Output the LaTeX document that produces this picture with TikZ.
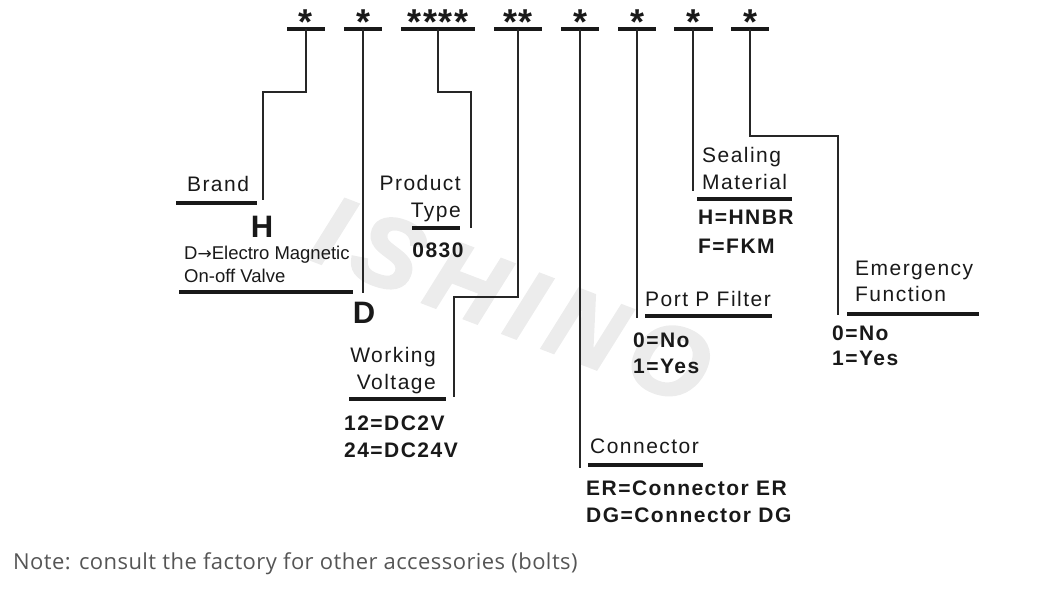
\documentclass[tikz,border=0pt]{standalone}
\usepackage{fontspec}
\setmainfont{Liberation Sans}
\newfontfamily\labfont[LetterSpace=7]{Liberation Sans}
\newfontfamily\valfont[LetterSpace=7]{Liberation Sans}
\newfontfamily\smallfont[LetterSpace=0]{Liberation Sans}
\newfontfamily\arrowfont{DejaVu Sans}
\newfontfamily\astfont[LetterSpace=4]{Liberation Sans}
\newfontfamily\wmfont[LetterSpace=14, FakeBold=2.5]{Liberation Sans}
\newfontfamily\notefont[LetterSpace=2]{Open Sans}
\definecolor{wmgray}{gray}{0.925}
\definecolor{notegray}{HTML}{555555}
\tikzset{
  conn/.style={line width=1.4pt, draw=black!85},
  bar/.style={line width=4.6pt, draw=black!90},
  lab/.style={font=\labfont\fontsize{21}{24}\selectfont, inner sep=0pt, text=black!90},
  val/.style={font=\valfont\bfseries\fontsize{21}{24}\selectfont, inner sep=0pt, text=black!90},
  big/.style={font=\bfseries\fontsize{31}{36}\selectfont, inner sep=0pt, text=black!90},
  small/.style={font=\smallfont\fontsize{18.5}{22}\selectfont, inner sep=0pt, text=black!90},
  ast/.style={font=\astfont\bfseries\fontsize{36}{40}\selectfont, inner sep=0pt, anchor=north, text=black!90},
  wm/.style={font=\wmfont\bfseries\itshape\fontsize{100}{110}\selectfont, text=wmgray, inner sep=0pt}
}
\begin{document}
\begin{tikzpicture}[x=1pt,y=-1pt]
\useasboundingbox (0,0) rectangle (1038,589);
% watermark
\node[wm, rotate=-21] (wmark) at (512,300) {ISHINO};

% top asterisks
\node[ast] (a1) at (306,10) {*};
\node[ast] (a2) at (363,10) {*};
\node[ast] (a3) at (438,10) {****};
\node[ast] (a4) at (518,10) {**};
\node[ast] (a5) at (580,10) {*};
\node[ast] (a6) at (637,10) {*};
\node[ast] (a7) at (693,10) {*};
\node[ast] (a8) at (750,10) {*};

% top bars
\foreach \i/\l/\r/\c in {1/287/325/306, 2/344/382/363, 3/401/475/438, 4/494/542/518, 5/561/599/580, 6/618/656/637, 7/674/713/693, 8/731/769/750}{
  \coordinate (bl\i) at (\l,29);
  \coordinate (br\i) at (\r,29);
  \coordinate (t\i) at (\c,29);
  \draw[bar] (bl\i) -- (br\i);
}

% label bars
\coordinate (brandL) at (176,203); \coordinate (brandR) at (257,203);
\coordinate (valveL) at (179,292); \coordinate (valveR) at (353,292);
\coordinate (prodL) at (412,228); \coordinate (prodR) at (460,228);
\coordinate (voltL) at (349,399); \coordinate (voltR) at (446,399);
\coordinate (connL) at (588,465); \coordinate (connR) at (703,465);
\coordinate (portL) at (645,316); \coordinate (portR) at (772,316);
\coordinate (sealL) at (697,199); \coordinate (sealR) at (792,199);
\coordinate (emerL) at (847,314); \coordinate (emerR) at (979,314);
\foreach \b in {brand,valve,prod,volt,conn,port,seal,emer}{
  \draw[bar] (\b L) -- (\b R);
}

% connector end points
\coordinate (e1) at (263,200);
\coordinate (e2) at (363,293);
\coordinate (e3) at (471,228);
\coordinate (e4) at (454,397);
\coordinate (e5) at (580,468);
\coordinate (e6) at (637,318);
\coordinate (e7) at (693,191);
\coordinate (e8) at (838,315);

\draw[conn] (t1) |- (263,92) -- (e1);
\draw[conn] (t2) -- (e2);
\draw[conn] (t3) |- (471,92) -- (e3);
\draw[conn] (t4) |- (454,297) -- (e4);
\draw[conn] (t5) -- (e5);
\draw[conn] (t6) -- (e6);
\draw[conn] (t7) -- (e7);
\draw[conn] (t8) |- (838,136) -- (e8);

% Brand
\node[lab, anchor=base] (brand) at (218,191) {Brand};
\node[big, anchor=base] (H) at (262,237) {H};
\node[small, anchor=base west] (elec) at (184,259) {D{\arrowfont\fontsize{17}{20}\selectfont →}Electro Magnetic};
\node[small, anchor=base west] (onoff) at (184,282) {On-off Valve};
\node[big, anchor=base] (D) at (364,323) {D};

% Product type
\node[lab, anchor=base east] (product) at (461,190) {Product};
\node[lab, anchor=base east] (type) at (461,217) {Type};
\node[val, anchor=base] (code) at (438,257) {0830};

% Working voltage
\node[lab, anchor=base east] (working) at (436,362) {Working};
\node[lab, anchor=base east] (voltage) at (436,389) {Voltage};
\node[val, anchor=base west] (v12) at (344,430) {12=DC2V};
\node[val, anchor=base west] (v24) at (344,457) {24=DC24V};

% Connector
\node[lab, anchor=base west] (connector) at (590,453) {Connector};
\node[val, anchor=base west] (er) at (586,495) {ER=Connector ER};
\node[val, anchor=base west] (dg) at (586,522) {DG=Connector DG};

% Port P filter
\node[lab, anchor=base west] (port) at (645,306) {Port P Filter};
\node[val, anchor=base west] (pno) at (633,347) {0=No};
\node[val, anchor=base west] (pyes) at (633,373) {1=Yes};

% Sealing material
\node[lab, anchor=base west] (sealing) at (702,162) {Sealing};
\node[lab, anchor=base west] (material) at (702,189) {Material};
\node[val, anchor=base west] (hnbr) at (698,224) {H=HNBR};
\node[val, anchor=base west] (fkm) at (698,253) {F=FKM};

% Emergency function
\node[lab, anchor=base west] (emergency) at (855,275) {Emergency};
\node[lab, anchor=base west] (function) at (855,301) {Function};
\node[val, anchor=base west] (eno) at (832,340) {0=No};
\node[val, anchor=base west] (eyes) at (832,365) {1=Yes};

% Note
\node[font=\notefont\fontsize{22}{26}\selectfont, text=notegray, inner sep=0pt, anchor=base west] (note) at (13,569) {Note: consult the factory for other accessories (bolts)};
\end{tikzpicture}
\end{document}
